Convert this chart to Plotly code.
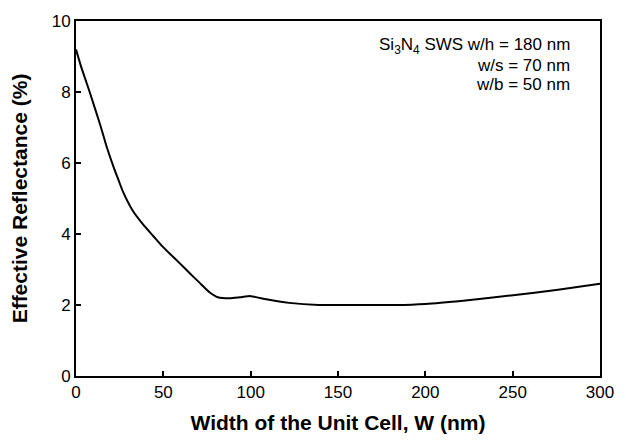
import plotly.graph_objects as go

width_nm = [0, 3, 7.5, 13.7, 17.6, 22, 24.1, 27, 32.7, 38.4, 44.1, 48.9, 53.6, 59.3, 65, 70.7, 76.4,
            81.2, 88, 94, 100, 109, 122, 139, 160, 183, 200, 223, 249, 276, 300]
reflectance = [9.2, 8.7, 8.05, 7.1, 6.45, 5.82, 5.55, 5.18, 4.64, 4.27, 3.95, 3.68, 3.45, 3.18, 2.9, 2.63, 2.36,
               2.22, 2.19, 2.22, 2.25, 2.16, 2.06, 2.0, 2.0, 2.0, 2.03, 2.13, 2.27, 2.43, 2.6]

x_ticks = [0, 50, 100, 150, 200, 250, 300]
y_ticks = [0, 2, 4, 6, 8, 10]

note_lines = ["Si<sub>3</sub>N<sub>4</sub> SWS w/h = 180 nm", "w/s = 70 nm", "w/b = 50 nm"]
note_y = [0.929, 0.874, 0.822]

FONT = "Liberation Sans, Arial, Helvetica, sans-serif"

fig = go.Figure()
fig.add_trace(go.Scatter(x=width_nm, y=reflectance, mode="lines",
                         line=dict(color="black", width=2, shape="spline", smoothing=0.5),
                         showlegend=False))

axis_common = dict(showline=True, linecolor="black", linewidth=2, mirror=True,
                   ticks="inside", ticklen=5, tickwidth=1.5, tickcolor="black",
                   showgrid=False, zeroline=False,
                   tickfont=dict(family=FONT, size=17, color="black"))

fig.update_xaxes(range=[0, 300], tickvals=x_ticks,
                 title=dict(text="Width of the Unit Cell, W (nm)",
                            font=dict(family=FONT, size=21, color="black", weight="bold"),
                            standoff=14),
                 **axis_common)
fig.update_yaxes(range=[0, 10], tickvals=y_ticks,
                 title=dict(text="Effective Reflectance (%)",
                            font=dict(family=FONT, size=21, color="black", weight="bold"),
                            standoff=18),
                 **axis_common)

for txt, yy in zip(note_lines, note_y):
    fig.add_annotation(x=0.947, y=yy, xref="paper", yref="paper",
                       xanchor="right", yanchor="middle", align="right", showarrow=False,
                       text=txt, font=dict(family=FONT, size=17, color="black"))

fig.update_layout(width=626, height=443,
                  margin=dict(l=76, r=24, t=17, b=60),
                  plot_bgcolor="white", paper_bgcolor="white")

fig.write_html("out.html")
